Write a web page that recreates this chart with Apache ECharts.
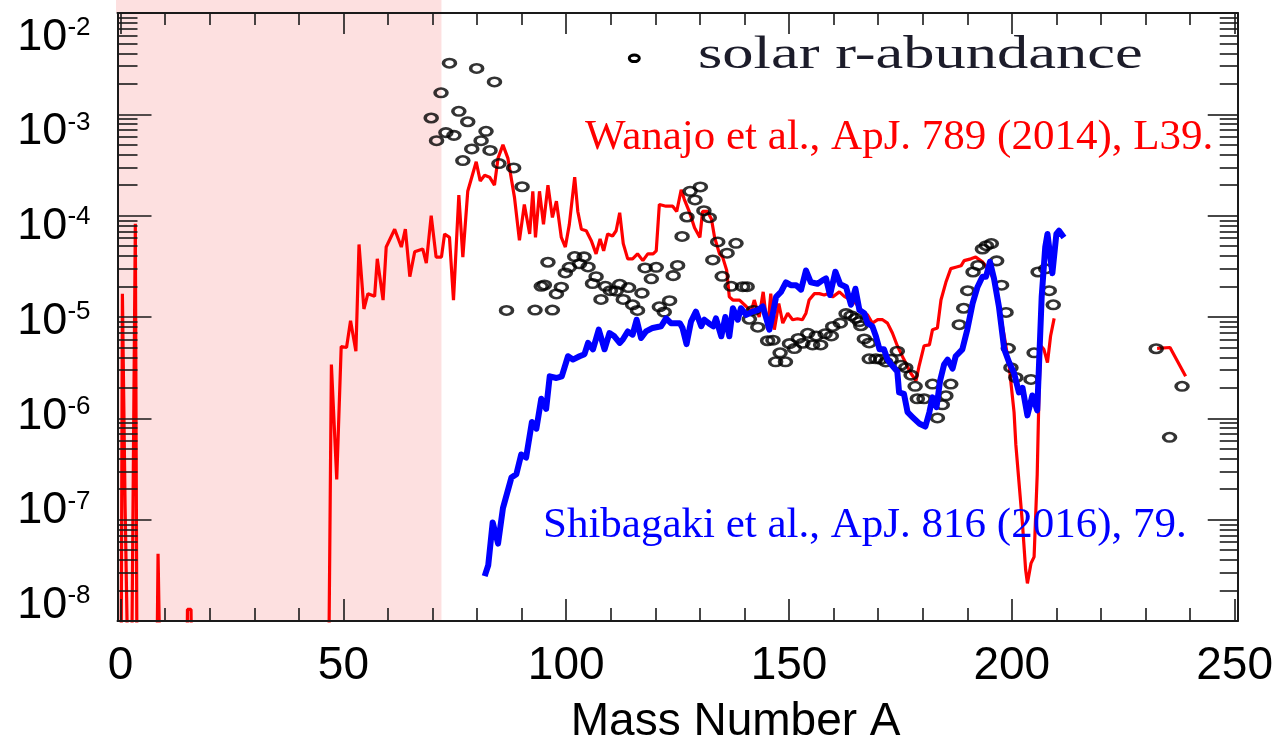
<!DOCTYPE html>
<html>
<head>
<meta charset="utf-8">
<script src="https://cdn.jsdelivr.net/npm/echarts@6/dist/echarts.min.js"></script>
<style>html,body{margin:0;padding:0;background:#fff}#c{width:1276px;height:750px}</style>
</head>
<body>
<div id="c"></div>
<script>
// ---------- data ----------
const xLabelValues = [0, 50, 100, 150, 200, 250];
const xMinorTicks = [10, 20, 30, 40, 60, 70, 80, 90, 110, 120, 130, 140, 160, 170, 180, 190, 210, 220, 230, 240];
const yDecadeExponents = [-8, -7, -6, -5, -4, -3, -2];
const yMinorFactors = [2, 3, 4, 5, 6, 7, 8, 9];
const shadedMassRange = [-0.7, 72];

// Wanajo et al. (red line): [mass number A, abundance]
const wanajo = [
  [0,1e-10],[0.4,1.7e-5],[1.0,1.4e-7],[2.2,1e-10],[3.3,8.3e-5],[3.8,1e-10],
  [7.8,1e-10],[8.4,4.6e-8],[9.4,1e-10],
  [14.6,1e-10],[15.0,1.3e-8],[15.8,1.3e-8],[16.3,1e-10],
  [46.4,1e-10],[47.3,3.4e-6],[48.5,2.5e-7],[49.5,5.1e-6],[50.7,5.0e-6],[51.6,9.2e-6],[52.8,4.6e-6],
  [53.5,5.2e-5],[54.6,1.2e-5],[55.5,1.7e-5],[57,1.6e-5],[57.6,3.75e-5],[58.9,1.47e-5],[59.6,4.9e-5],
  [61.5,7.35e-5],[63,4.9e-5],[63.9,7.35e-5],[64.9,2.5e-5],[66,4.4e-5],[67.8,4.7e-5],[68.6,3.4e-5],
  [69.7,1.0e-4],[70.8,3.9e-5],[72,3.9e-5],[72.7,6.6e-5],[73.8,6.1e-5],[74.7,1.47e-5],[75.9,1.6e-4],
  [76.8,3.9e-5],[77.9,1.74e-4],[79.8,3.4e-4],[80.7,2.2e-4],[81.7,2.5e-4],[82.8,2.4e-4],[83.9,2.0e-4],
  [84.7,3.7e-4],[85.8,5.0e-4],[86.9,3.7e-4],[88.4,1.5e-4],[89.5,5.7e-5],[90.6,1.29e-4],[91.8,6.6e-5],
  [92.5,1.74e-4],[93.1,6.1e-5],[94,1.74e-4],[94.9,8.2e-5],[95.9,2.0e-4],[96.9,9.6e-5],[97.8,1.39e-4],
  [98.9,6.1e-5],[99.8,4.9e-5],[100.7,8.2e-5],[101.9,2.4e-4],[102.6,1.1e-4],[103.4,7.35e-5],[104.5,7.1e-5],
  [105.6,5.7e-5],[106.7,4.2e-5],[107.6,5.9e-5],[108.4,4.5e-5],[109.3,6.6e-5],[110.4,6.3e-5],[111.2,7.1e-5],
  [112,1.07e-4],[112.8,5.3e-5],[113.8,3.75e-5],[114.9,3.75e-5],[116,4.2e-5],[117.2,3.6e-5],[118.3,4.2e-5],
  [119.5,4.2e-5],[120.2,4.5e-5],[120.9,1.29e-4],[122.4,1.24e-4],[123.9,1.24e-4],[124.8,1.1e-4],[125.8,1.8e-4],
  [126.5,1.45e-4],[127.7,1.07e-4],[128.8,7.6e-5],[130,6.1e-5],[130.6,1.1e-4],[131.7,1.1e-4],[132.6,9.2e-5],
  [133.3,6.1e-5],[134.4,4.2e-5],[135.1,3.9e-5],[136,2.9e-5],[136.6,1.58e-5],[137.4,1.47e-5],[138.9,1.47e-5],
  [140.4,1.27e-5],[141.5,1.13e-5],[142.2,1.47e-5],[143.3,1.0e-5],[144.2,1.77e-5],[145.2,7.5e-6],[145.9,1.7e-5],
  [146.7,7.5e-6],[147.7,1.36e-5],[148.6,8.7e-6],[149.7,1.09e-5],[150.8,9.4e-6],[151.9,9.6e-6],[153,9.4e-6],
  [153.8,1.09e-5],[154.5,1.47e-5],[155.7,1.7e-5],[156.8,1.7e-5],[157.9,1.65e-5],[158.7,1.7e-5],[159.8,1.58e-5],
  [161.3,1.77e-5],[162.4,1.6e-5],[163.5,1.5e-5],[165,1.36e-5],[166.5,1.13e-5],[167.6,1.05e-5],[168.7,8.7e-6],
  [169.9,9.4e-6],[171,9.4e-6],[172.1,8.7e-6],[173.2,6.95e-6],[174.3,5.2e-6],[175.8,3.8e-6],[177.3,2.8e-6],
  [178.5,2.35e-6],[179.2,3.3e-6],[180.3,5.2e-6],[181.5,5.3e-6],[182.2,7.5e-6],[183.3,7.8e-6],[184.1,1.47e-5],
  [185.2,2.2e-5],[186.3,3.0e-5],[187.4,3.1e-5],[188.6,3.2e-5],[189.3,3.6e-5],[190.8,3.75e-5],[191.9,3.9e-5],
  [193.4,3.5e-5],[194.9,2.9e-5],[196,2.3e-5],[197.1,1.27e-5],[198.3,6.5e-6],[199.4,3.3e-6],[200.5,1.15e-6],
  [200.9,5.5e-7],[202.4,9e-8],[203.1,3.2e-8],[203.5,2.35e-8],[204.3,3.7e-8],[205,4.3e-8],[205.7,2.8e-7],
  [206.1,1.8e-6],[206.5,5.2e-6],[207.2,4.8e-6],[208,3.55e-6],[208.7,6.5e-6],[209.5,9.7e-6],
  [221,null],
  [232.6,4.9e-6],[235.5,5.0e-6],[239,2.6e-6]
];

// Shibagaki et al. (blue line)
const shibagaki = [
  [81.7,2.77e-8],[82.5,3.55e-8],[83.5,9.4e-8],[84.7,5.8e-8],[85.8,1.3e-7],[87.7,2.6e-7],[88.8,2.8e-7],
  [89.9,4.4e-7],[91,4.1e-7],[92.3,9.2e-7],[93.3,7.9e-7],[94.4,1.56e-6],[95.5,1.24e-6],[96.3,2.6e-6],
  [97.8,2.5e-6],[99,2.6e-6],[100.4,4.1e-6],[101.5,3.8e-6],[103,4.1e-6],[104.1,4.3e-6],[104.9,5.55e-6],
  [106,4.8e-6],[107.3,7.5e-6],[108.6,4.8e-6],[109.7,6.95e-6],[110.8,6.45e-6],[112,5.55e-6],[112.7,6.0e-6],
  [113.8,7.2e-6],[114.9,6.7e-6],[115.8,9.4e-6],[116.8,6.2e-6],[117.9,7.2e-6],[119.4,7.8e-6],[121.3,8.1e-6],
  [122.4,9.7e-6],[123.5,8.7e-6],[125.5,8.7e-6],[126.1,7.8e-6],[127,5.4e-6],[128,9.0e-6],[129.1,1.13e-5],
  [130.3,8.1e-6],[131,9.4e-6],[132.1,8.6e-6],[133,8.1e-6],[133.6,9.7e-6],[134.8,6.45e-6],[135.7,1.0e-5],
  [136.6,6.45e-6],[137.4,1.22e-5],[138.5,9.4e-6],[139.2,1.22e-5],[140.4,1.05e-5],[141.8,1.13e-5],[143,1.17e-5],
  [144.1,1.27e-5],[144.8,1.0e-5],[145.6,7.5e-6],[146.3,1.05e-5],[147.1,1.58e-5],[148.2,1.77e-5],[149.3,2.2e-5],
  [150.4,2.06e-5],[151.6,2.06e-5],[152.7,1.86e-5],[153.8,2.88e-5],[154.9,2.2e-5],[156.4,2.13e-5],[157.5,2.3e-5],
  [158.3,2.4e-5],[159.2,1.65e-5],[160.4,2.8e-5],[161.5,2.1e-5],[162.8,1.98e-5],[163.9,1.32e-5],[164.9,1.9e-5],
  [165.8,1.17e-5],[166.9,1.09e-5],[167.6,8.7e-6],[168.7,8.1e-6],[169.5,6.45e-6],[170.3,4.8e-6],[171.3,4.8e-6],
  [172.1,3.8e-6],[173.2,3.3e-6],[174.3,2.9e-6],[174.7,1.8e-6],[175.8,1.74e-6],[176.6,1.15e-6],[177.7,1.03e-6],
  [179.2,8.9e-7],[180.6,8.3e-7],[181.5,1.15e-6],[182.2,1.61e-6],[183.1,1.29e-6],[183.9,2.35e-6],[184.8,3.4e-6],
  [185.6,3.8e-6],[186.7,3.1e-6],[187.4,4.1e-6],[188.9,4.8e-6],[190,7.5e-6],[191.2,1.36e-5],[192.3,1.98e-5],
  [193.4,2.5e-5],[194.2,2.5e-5],[195.1,3.5e-5],[196,2.4e-5],[197.1,1.27e-5],[198.3,4.8e-6],[199.4,3.55e-6],
  [200.5,2.8e-6],[201.6,1.8e-6],[202.4,2.0e-6],[203.5,1.07e-6],[204.6,1.68e-6],[205.7,1.2e-6],[206.7,1.58e-5],
  [207.5,4.9e-5],[208,6.6e-5],[209.1,2.7e-5],[210,6.6e-5],[210.6,7.1e-5],[211.7,6.1e-5]
];

// solar r-abundance (open circles)
const solarR = [
  [69.7,9.2e-4],[70.9,5.5e-4],[71.9,1.63e-3],[73.8,3.2e-3],[73.0,6.6e-4],[74.8,6.2e-4],[75.9,1.07e-3],
  [76.8,3.5e-4],[77.9,8.45e-4],[78.8,4.56e-4],[79.9,2.84e-3],[80.9,5.5e-4],[82.0,6.8e-4],[82.9,4.4e-4],
  [83.9,2.09e-3],[84.9,3.27e-4],[88.2,2.96e-4],[90.1,1.93e-4],[86.6,1.16e-5],[93.0,1.17e-5],[96.9,1.17e-5],
  [94.4,2.01e-5],[95.1,2.07e-5],[95.9,3.47e-5],[97.8,1.69e-5],[98.9,1.97e-5],[99.8,2.72e-5],[100.7,3.09e-5],
  [101.9,3.95e-5],[104.0,3.92e-5],[103.0,3.35e-5],[104.9,3.12e-5],[105.9,2.14e-5],[106.7,2.5e-5],[107.8,1.49e-5],
  [108.8,2.01e-5],[109.9,1.82e-5],[111.2,1.8e-5],[112.0,2.1e-5],[112.8,1.49e-5],[114.0,1.95e-5],[114.9,1.32e-5],
  [116.0,1.16e-5],[117.0,1.72e-5],[117.7,3.05e-5],[119.1,2.38e-5],[120.2,3.09e-5],[120.9,1.26e-5],[122.0,1.12e-5],
  [123.2,1.45e-5],[124.0,2.56e-5],[125.0,3.23e-5],[126.0,6.24e-5],[127.1,9.7e-5],[127.8,1.74e-4],[130.1,1.92e-4],
  [128.9,1.43e-4],[130.9,1.12e-4],[132.1,9.55e-5],[132.9,3.66e-5],[134.0,5.5e-5],[135.0,2.52e-5],[136.1,4.26e-5],
  [137.0,2.01e-5],[138.1,5.33e-5],[139.6,1.99e-5],[140.6,1.99e-5],[142.0,1.16e-5],[141.1,9.5e-6],[143.0,7.94e-6],
  [145.2,5.83e-6],[146.4,5.9e-6],[148.0,4.43e-6],[147.0,3.61e-6],[149.2,3.61e-6],[150.1,5.46e-6],[151.2,4.88e-6],
  [152.1,6.14e-6],[153.1,5.51e-6],[154.2,6.9e-6],[155.3,5.3e-6],[156.1,6.5e-6],[157.1,5.3e-6],[158.1,6.82e-6],
  [159.5,6.5e-6],[159.8,8.07e-6],[161.5,8.7e-6],[162.8,1.08e-5],[163.9,1.03e-5],[165.0,9.7e-6],[165.8,9.0e-6],
  [166.1,8.2e-6],[166.9,6.07e-6],[168.0,5.55e-6],[168.0,3.87e-6],[169.5,3.87e-6],[170.6,3.82e-6],[171.7,3.6e-6],
  [172.9,3.82e-6],[174.3,4.6e-6],[175.1,3.34e-6],[176.2,3.16e-6],[177.4,2.67e-6],[178.3,2.07e-6],[178.8,1.56e-6],
  [180.3,1.56e-6],[182.2,2.18e-6],[183.3,1.01e-6],[184.4,1.36e-6],[185.2,1.67e-6],[186.3,2.18e-6],[188.2,8.4e-6],
  [189.2,1.22e-5],[190.1,1.82e-5],[191.3,2.78e-5],[192.4,3.23e-5],[193.4,4.69e-5],[194.3,5.06e-5],[195.4,5.3e-5],
  [196.6,3.58e-5],[197.7,2.06e-5],[198.7,1.11e-5],[199.2,4.91e-6],[199.8,3.16e-6],[200.9,2.53e-6],[204.3,2.42e-6],
  [205.0,4.43e-6],[205.9,2.78e-5],[207.6,2.99e-5],[208.4,1.82e-5],[209.3,1.32e-5],
  [232.4,4.86e-6],[235.4,6.5e-7],[238.2,2.07e-6]
];

const legendText = 'solar r-abundance';
const wanajoText = 'Wanajo et al., ApJ. 789 (2014), L39.';
const shibagakiText = 'Shibagaki et al., ApJ. 816 (2016), 79.';
const xAxisTitle = 'Mass Number A';

// ---------- chart ----------
const frameColor = '#1a1a1a';
const sans = 'Liberation Sans, Arial, sans-serif';
const serif = 'Liberation Serif, Times New Roman, serif';
const xMin = -0.7, xMax = 250.7;

const yMinorLogs = [];
for (let n = -8; n <= -3; n++) yMinorFactors.forEach(k => yMinorLogs.push(n + Math.log10(k)));

function xAx(pos, ticks, len, showLine, showLabels) {
  return {
    type: 'value', min: xMin, max: xMax, position: pos, z: 10,
    axisLine: { show: showLine, onZero: false, lineStyle: { color: frameColor, width: 2 } },
    axisTick: { show: true, inside: true, length: len, customValues: ticks, lineStyle: { color: frameColor, width: 1.6 } },
    axisLabel: showLabels ? { show: true, customValues: xLabelValues, fontSize: 46, lineHeight: 46, margin: 22, color: '#000', fontFamily: sans } : { show: false },
    splitLine: { show: false }
  };
}
function yTickAx(pos, ticks, len, showLine) {
  return {
    type: 'value', min: -8, max: -2, position: pos, z: 10,
    axisLine: { show: showLine, onZero: false, lineStyle: { color: frameColor, width: 2 } },
    axisTick: { show: true, inside: true, length: len, customValues: ticks, lineStyle: { color: frameColor, width: 1.6 } },
    axisLabel: { show: false }, splitLine: { show: false }
  };
}

const chart = echarts.init(document.getElementById('c'), null, { renderer: 'canvas' });
const bottomX = Object.assign(xAx('bottom', xLabelValues, 22, true, true), {
  name: xAxisTitle, nameLocation: 'middle', nameGap: 78,
  nameTextStyle: { fontSize: 46, lineHeight: 46, color: '#000', fontFamily: sans, padding: [0, 0, 0, 116] }
});

chart.setOption({
  animation: false,
  backgroundColor: '#fff',
  grid: { left: 117.5, right: 37, top: 13, bottom: 122, containLabel: false },
  xAxis: [
    bottomX,
    xAx('bottom', xMinorTicks, 13, false, false),
    xAx('top', xLabelValues, 21, true, false),
    xAx('top', xMinorTicks, 12, false, false)
  ],
  yAxis: [
    { type: 'log', logBase: 10, min: 1e-8, max: 1e-2, position: 'left', z: 10,
      axisLine: { show: true, onZero: false, lineStyle: { color: frameColor, width: 2 } },
      axisTick: { show: false }, axisLabel: { show: false }, splitLine: { show: false } },
    yTickAx('left', yMinorLogs, 20, false),
    yTickAx('left', yDecadeExponents, 34, false),
    yTickAx('right', yMinorLogs, 18, true),
    yTickAx('right', yDecadeExponents, 30, false),
    { type: 'value', min: -8.146, max: -1.729, position: 'left', z: 10,
      axisLine: { show: false, onZero: false }, axisTick: { show: false }, splitLine: { show: false },
      axisLabel: {
        show: true, customValues: yDecadeExponents, margin: 27,
        formatter: v => '{b|10}{s|' + Math.round(v) + '}',
        rich: {
          b: { fontSize: 45, lineHeight: 48, fontFamily: sans, color: '#000', verticalAlign: 'top' },
          s: { fontSize: 26, lineHeight: 34, fontFamily: sans, color: '#000', verticalAlign: 'top' }
        }
      } }
  ],
  series: [
    { name: 'Wanajo', type: 'line', xAxisIndex: 0, yAxisIndex: 0, data: wanajo, showSymbol: false,
      connectNulls: false, clip: true, z: 3,
      lineStyle: { color: '#ff0000', width: 3.2 },
      markArea: { silent: true, itemStyle: { color: '#fde0e0' },
        data: [[{ xAxis: shadedMassRange[0] }, { xAxis: shadedMassRange[1] }]] } },
    { name: legendText, type: 'scatter', xAxisIndex: 0, yAxisIndex: 0, data: solarR, z: 4,
      symbol: 'circle', symbolSize: [12, 8.5], clip: true,
      itemStyle: { color: 'rgba(255,255,255,0)', borderColor: '#000', borderWidth: 3 } },
    { name: 'Shibagaki', type: 'line', xAxisIndex: 0, yAxisIndex: 0, data: shibagaki, showSymbol: false,
      clip: true, z: 5, lineStyle: { color: '#0000ff', width: 6, join: 'round' } }
  ],
  graphic: [
    { type: 'ellipse', z: 20, shape: { cx: 634.3, cy: 58.3, rx: 5, ry: 3.3 },
      style: { fill: 'none', stroke: '#000', lineWidth: 3 } },
    { type: 'text', z: 20, x: 698, y: 56, scaleX: 1.33,
      style: { text: legendText, font: '47px ' + serif, fill: '#1c1c2a', textVerticalAlign: 'middle' } },
    { type: 'text', z: 20, x: 585, y: 138,
      style: { text: wanajoText, font: '43px ' + serif, fill: '#ff0000', textVerticalAlign: 'middle' } },
    { type: 'text', z: 20, x: 543, y: 526,
      style: { text: shibagakiText, font: '43px ' + serif, fill: '#0000ff', textVerticalAlign: 'middle' } }
  ]
});

// extend the shaded band above the frame, like the reference
const px0 = chart.convertToPixel({ xAxisIndex: 0 }, shadedMassRange[0]) - 1.5;
const px1 = chart.convertToPixel({ xAxisIndex: 0 }, shadedMassRange[1]);
chart.setOption({ graphic: [{ id: 'pinkTop', type: 'rect', z: 0, silent: true,
  shape: { x: px0, y: 0, width: px1 - px0, height: 13 }, style: { fill: '#fde0e0' } }] });
</script>
</body>
</html>
